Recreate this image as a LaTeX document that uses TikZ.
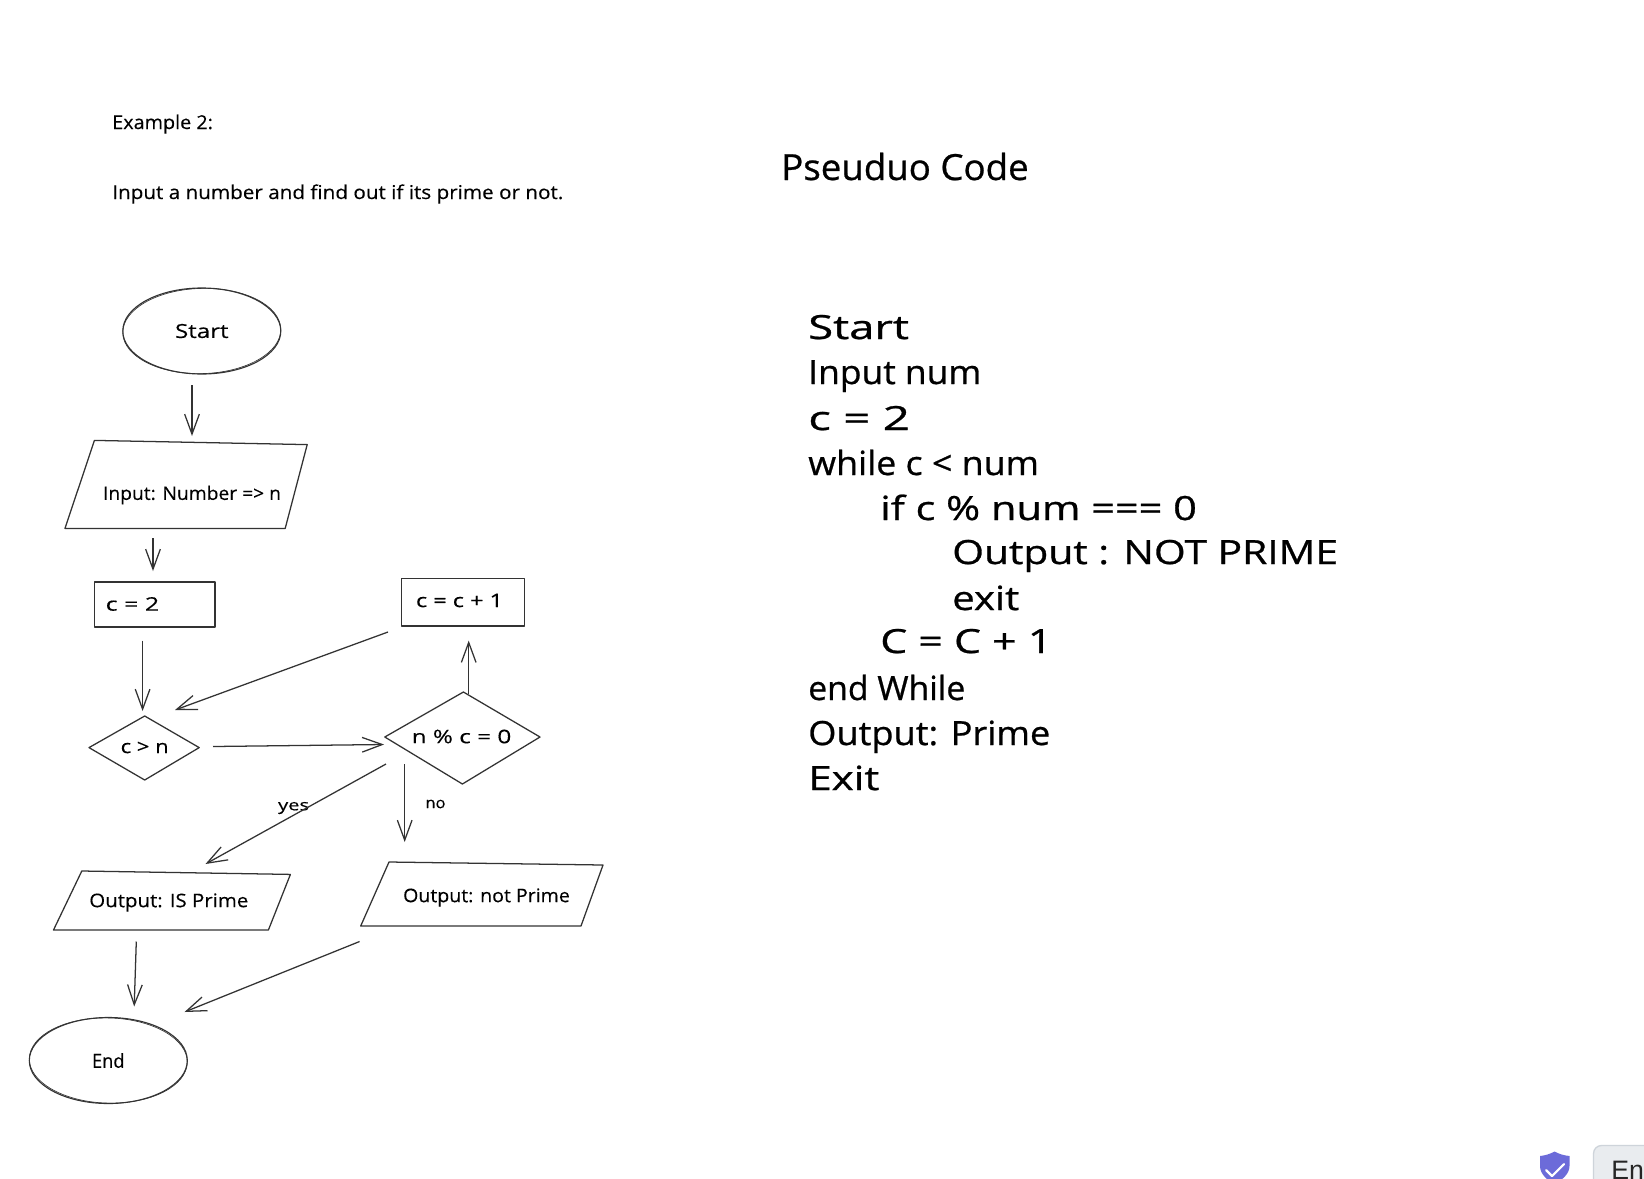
\documentclass[tikz,border=0pt]{standalone}
\usepackage{fontspec}
\setmainfont{Open Sans}
\newfontfamily\btnfont{Liberation Sans}
\newfontfamily\heavyfont[FakeBold=0.7]{Open Sans}
\newfontfamily\midfont[FakeBold=0.3]{Open Sans}
\usetikzlibrary{arrows.meta,shapes.geometric}
\definecolor{ink}{HTML}{333333}
\definecolor{shield}{HTML}{6C6BD9}
\definecolor{btnfill}{HTML}{E9ECEF}
\definecolor{btnline}{HTML}{CED4DA}
% set a text to a given width in reference pixels, keeping its height
\newcommand{\fw}[2]{\resizebox{#1\dimexpr0.75pt\relax}{\height}{#2}}
\tikzset{
  box/.style={draw=ink,line width=0.95pt,line join=round},
  oval/.style={draw=ink,line width=0.85pt,shape=ellipse,inner sep=0pt,minimum width=118.5pt,minimum height=64.5pt,font=\midfont\fontsize{14.5}{17}\selectfont},
  wobble/.style={draw=ink,line width=0.5pt},
  flow/.style={draw=ink,line width=0.95pt,-{Straight Barb[length=15pt,width=11pt,line width=0.95pt]}},
  small/.style={font=\midfont\fontsize{14}{17}\selectfont,inner sep=0pt},
  tiny/.style={font=\midfont\fontsize{11.5}{14}\selectfont,inner sep=0pt},
  intro/.style={font=\midfont\fontsize{14.3}{17}\selectfont,anchor=base west,inner sep=0pt},
  title/.style={font=\heavyfont\fontsize{27}{32}\selectfont,anchor=base west,inner sep=0pt},
  code/.style={font=\heavyfont\fontsize{25}{29}\selectfont,anchor=base west,inner sep=0pt}
}
\begin{document}
\begin{tikzpicture}[x=0.75pt,y=-0.75pt]
\useasboundingbox (0,0) rectangle (1644,1178);
\fill[white] (0,0) rectangle (1644,1178);
% heading texts
\node[intro] (ex) at (112,129) {\fw{100.7}{Example 2:}};
\node[intro] (prob) at (112,199) {\fw{451}{Input a number and find out if its prime or not.}};
\node[title] (pc) at (781,180) {\fw{247.4}{Pseuduo Code}};
% pseudo code
\node[code] (l1) at (808,339) {\fw{100.7}{Start}};
\node[code] (l2) at (808,384) {\fw{173}{Input num}};
\node[code] (l3) at (808,430) {\fw{101.7}{c = 2}};
\node[code] (l4) at (808,475) {\fw{230.7}{while c < num}};
\node[code] (l5) at (880,520) {\fw{316.6}{if c \% num === 0}};
\node[code] (l6) at (952,564) {\fw{385.8}{Output : NOT PRIME}};
\node[code] (l7) at (952,610) {\fw{67}{exit}};
\node[code] (l8) at (880,653) {\fw{172}{C = C + 1}};
\node[code] (l9) at (808,700) {\fw{157}{end While}};
\node[code] (l10) at (808,745) {\fw{242}{Output: Prime}};
\node[code] (l11) at (808,790) {\fw{71}{Exit}};
% flow shapes
\node[oval] (start) at (201.8,331) {\fw{53.5}{Start}};
\draw[wobble] (start.center) ellipse [x radius=79,y radius=42.6,rotate=1.5];
\draw[box] (94.4,440.4) -- (307.2,444.6) -- (285.2,528.4) -- (65,528.4) -- cycle;
\node[small] (input) at (192,495) {\fw{178}{Input: Number => n}};
\draw[box] (94.4,582) rectangle (215,627);
\node[small] (c2) at (132.5,604) {\fw{53.5}{c = 2}};
\draw[box] (401.6,578.8) rectangle (524.3,626);
\node[small] (cinc) at (459.5,600.5) {\fw{87}{c = c + 1}};
\draw[box] (89,747.6) -- (144.7,716) -- (199.2,747.6) -- (144.7,780) -- cycle;
\node[small] (cgtn) at (144.7,747.5) {\fw{48}{c > n}};
\draw[box] (384.8,737) -- (463.4,692) -- (540,737) -- (462.4,784) -- cycle;
\node[small] (mod) at (461.5,736.5) {\fw{99.6}{n \% c = 0}};
\draw[box] (81.8,871) -- (290.4,874.4) -- (268.4,930) -- (53.5,930) -- cycle;
\node[small] (isp) at (168.8,902.5) {\fw{159}{Output: IS Prime}};
\draw[box] (389,862) -- (603,865) -- (581,926) -- (360.7,926) -- cycle;
\node[small] (notp) at (486.5,897.5) {\fw{166.7}{Output: not Prime}};
\node[oval] (end) at (108.3,1060.5) {\fw{32.5}{End}};
\draw[wobble] (end.center) ellipse [x radius=79,y radius=42.6,rotate=-1.5];
\node[tiny] (yes) at (293.6,808) {\fw{31}{yes}};
\node[tiny] (no) at (435.5,804) {\fw{20}{no}};
% connector ends
\coordinate (a1s) at (192,385); \coordinate (a1e) at (192,436);
\coordinate (a2s) at (153,538); \coordinate (a2e) at (153,571);
\coordinate (a3s) at (142.6,640.6); \coordinate (a3e) at (142.6,711);
\coordinate (a4s) at (388,632); \coordinate (a4e) at (175,710);
\coordinate (a5s) at (213,746.5); \coordinate (a5e) at (384,744.5);
\coordinate (a6s) at (468.7,694); \coordinate (a6e) at (468.7,640.6);
\coordinate (a7s) at (386,764); \coordinate (a7e) at (205.5,864);
\coordinate (a8s) at (404.7,764); \coordinate (a8e) at (404.7,842);
\coordinate (a9s) at (136.3,941.5); \coordinate (a9e) at (134.2,1006.5);
\coordinate (a10s) at (359.6,941.5); \coordinate (a10e) at (184.5,1012);
\draw[flow] (a1s) -- (a1e);
\draw[flow] (a2s) -- (a2e);
\draw[flow] (a3s) -- (a3e);
\draw[flow] (a4s) -- (a4e);
\draw[flow] (a5s) -- (a5e);
\draw[flow] (a6s) -- (a6e);
\draw[flow] (a7s) -- (a7e);
\draw[flow] (a8s) -- (a8e);
\draw[flow] (a9s) -- (a9e);
\draw[flow] (a10s) -- (a10e);
% bottom-right browser widgets
\begin{scope}
\clip (0,0) rectangle (1644,1178);
\fill[shield] (1554.5,1151.5) .. controls (1559,1154) and (1564,1155.5) .. (1569.5,1156) -- (1569.5,1166) .. controls (1569.5,1174) and (1562,1180) .. (1554.5,1184) .. controls (1547,1180) and (1540,1174) .. (1540,1166) -- (1540,1156) .. controls (1545,1155.5) and (1550,1154) .. (1554.5,1151.5) -- cycle;
\draw[white,line width=1.6pt,line cap=round,line join=round] (1546,1170) -- (1552,1176) -- (1564,1164);
\draw[btnline,fill=btnfill,line width=1pt,rounded corners=6pt] (1593.5,1200) -- (1593.5,1145.5) -- (1660,1145.5) -- (1660,1200);
\node[font=\btnfont\fontsize{20}{24}\selectfont,anchor=base west,inner sep=0pt,text=black!85] (enbtn) at (1611,1179) {En};
\end{scope}
\end{tikzpicture}
\end{document}
